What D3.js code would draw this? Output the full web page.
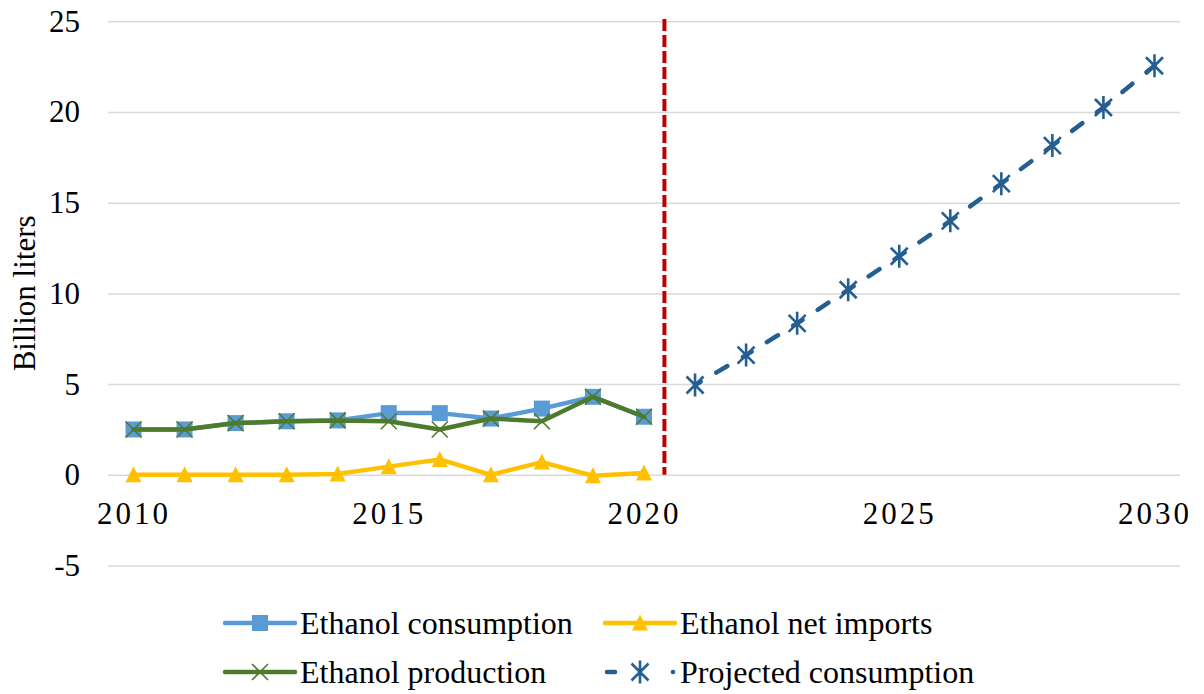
<!DOCTYPE html>
<html>
<head>
<meta charset="utf-8">
<script src="https://cdn.jsdelivr.net/npm/d3@7"></script>
<style>
  body { margin: 0; background: #fff; }
</style>
</head>
<body>
<div id="container"></div>
<script>
const years = [2010, 2011, 2012, 2013, 2014, 2015, 2016, 2017, 2018, 2019, 2020,
               2021, 2022, 2023, 2024, 2025, 2026, 2027, 2028, 2029, 2030];
const histYears = [2010, 2011, 2012, 2013, 2014, 2015, 2016, 2017, 2018, 2019, 2020];
const consumption = [2.5, 2.5, 2.85, 2.95, 3.0, 3.4, 3.4, 3.1, 3.65, 4.3, 3.2];
const netImports = [0, 0, 0, 0, 0.05, 0.45, 0.85, 0, 0.7, -0.05, 0.1];
const production = [2.5, 2.5, 2.85, 2.95, 3.0, 2.95, 2.5, 3.1, 2.95, 4.3, 3.2];
const projYears = [2021, 2022, 2023, 2024, 2025, 2026, 2027, 2028, 2029, 2030];
const projected = [4.95, 6.6, 8.35, 10.2, 12.05, 14.0, 16.05, 18.15, 20.25, 22.55];
const yTicks = [-5, 0, 5, 10, 15, 20, 25];
const xTicks = [2010, 2015, 2020, 2025, 2030];

const totalWidth = 1204;
const totalHeight = 694;
const plot = { left: 108, right: 1180, top: 21.3, bottom: 565.5 };
const serif = "'Liberation Serif'";

const colors = {
  consumption: "#5b9bd5",
  imports: "#ffc000",
  production: "#4e7a2c",
  projected: "#255e91",
  divider: "#c00000",
  grid: "#d9d9d9"
};

const svg = d3.select("#container")
  .append("svg")
  .attr("width", totalWidth)
  .attr("height", totalHeight);

// Scales
const x = d3.scalePoint()
  .domain(years)
  .range([plot.left, plot.right])
  .padding(0.5);

const y = d3.scaleLinear()
  .domain([-5, 25])
  .range([plot.bottom, plot.top]);

// Gridlines
const grid = svg.append("g")
  .attr("transform", `translate(${plot.left},0)`)
  .call(d3.axisLeft(y).tickValues(yTicks).tickSize(-(plot.right - plot.left)).tickFormat(""));
grid.select(".domain").remove();
grid.selectAll(".tick line").attr("stroke", colors.grid).attr("stroke-width", 1.5);

// Y axis labels (plain hyphen for negatives, like the original)
const yAxis = svg.append("g")
  .attr("transform", `translate(${plot.left},0)`)
  .call(d3.axisLeft(y).tickValues(yTicks).tickSize(0).tickPadding(28).tickFormat(d => String(d)));
yAxis.select(".domain").remove();
yAxis.selectAll("text")
  .style("font-family", serif)
  .style("font-size", "31px")
  .style("fill", "#000");

// X axis labels, hung from the zero line
const xAxis = svg.append("g")
  .attr("transform", `translate(0,${y(0)})`)
  .call(d3.axisBottom(x).tickValues(xTicks).tickSize(0).tickPadding(27));
xAxis.select(".domain").remove();
xAxis.selectAll("text")
  .style("font-family", serif)
  .style("font-size", "31px")
  .style("letter-spacing", "3px")
  .style("fill", "#000");

// Y axis title
svg.append("text")
  .attr("transform", "rotate(-90)")
  .attr("x", -(plot.top + plot.bottom) / 2)
  .attr("y", 35)
  .attr("text-anchor", "middle")
  .style("font-family", serif)
  .style("font-size", "31px")
  .text("Billion liters");

// Divider between history and projection
const divX = x(2020) + 0.4 * x.step();
svg.append("line")
  .attr("x1", divX).attr("x2", divX)
  .attr("y1", 19).attr("y2", y(0))
  .attr("stroke", colors.divider)
  .attr("stroke-width", 4)
  .attr("stroke-dasharray", "12,4");

// Marker drawing helpers
function drawMarker(g, kind, color) {
  if (kind === "square") {
    g.append("rect").attr("x", -8).attr("y", -8).attr("width", 16).attr("height", 16)
      .attr("fill", color);
  } else if (kind === "triangle") {
    g.append("path").attr("d", "M0,-8.5L8,7.5L-8,7.5Z").attr("fill", color);
  } else if (kind === "cross") {
    g.append("path").attr("d", "M-8,-8L8,8M-8,8L8,-8")
      .attr("stroke", color).attr("stroke-width", 1.6).attr("fill", "none");
  } else if (kind === "star") {
    g.append("path").attr("d", "M-8.5,-8.5L8.5,8.5M-8.5,8.5L8.5,-8.5M0,-11.5L0,11.5")
      .attr("stroke", color).attr("stroke-width", 2.6).attr("fill", "none");
  }
}

const line = d3.line().x(d => x(d[0])).y(d => y(d[1]));

const series = [
  { key: "consumption", xs: histYears, ys: consumption, color: colors.consumption, marker: "square" },
  { key: "imports", xs: histYears, ys: netImports, color: colors.imports, marker: "triangle" },
  { key: "production", xs: histYears, ys: production, color: colors.production, marker: "cross" }
];

series.forEach(s => {
  const pts = s.xs.map((yr, i) => [yr, s.ys[i]]);
  svg.append("path")
    .datum(pts)
    .attr("d", line)
    .attr("fill", "none")
    .attr("stroke", s.color)
    .attr("stroke-width", 4.5)
    .attr("stroke-linejoin", "round")
    .attr("stroke-linecap", "round");
  svg.selectAll(`g.m-${s.key}`)
    .data(pts)
    .enter()
    .append("g")
    .attr("class", `m-${s.key}`)
    .attr("transform", d => `translate(${x(d[0])},${y(d[1])})`)
    .each(function () { drawMarker(d3.select(this), s.marker, s.color); });
});

// Projected consumption: dashed, pattern restarting at each point
const projPts = projYears.map((yr, i) => [yr, projected[i]]);
d3.pairs(projPts).forEach(pair => {
  svg.append("path")
    .datum(pair)
    .attr("d", line)
    .attr("fill", "none")
    .attr("stroke", colors.projected)
    .attr("stroke-width", 4.5)
    .attr("stroke-linecap", "round")
    .attr("stroke-dasharray", "13,18")
    .attr("stroke-dashoffset", 6.5);
});
svg.selectAll("g.m-proj")
  .data(projPts)
  .enter()
  .append("g")
  .attr("class", "m-proj")
  .attr("transform", d => `translate(${x(d[0])},${y(d[1])})`)
  .each(function () { drawMarker(d3.select(this), "star", colors.projected); });

// Legend
const legendData = [
  { label: "Ethanol consumption", color: colors.consumption, marker: "square", col: 0, row: 0 },
  { label: "Ethanol net imports", color: colors.imports, marker: "triangle", col: 1, row: 0 },
  { label: "Ethanol production", color: colors.production, marker: "cross", col: 0, row: 1 },
  { label: "Projected consumption", color: colors.projected, marker: "star", col: 1, row: 1, dashed: true }
];
const legendCols = [225, 605];
const legendRows = [623, 672];

const legend = svg.append("g").attr("id", "legend");
legendData.forEach(d => {
  const g = legend.append("g")
    .attr("transform", `translate(${legendCols[d.col]},${legendRows[d.row]})`);
  if (d.dashed) {
    g.append("line").attr("x1", 2).attr("x2", 10).attr("y1", 0).attr("y2", 0)
      .attr("stroke", d.color).attr("stroke-width", 4.5).attr("stroke-linecap", "round");
    g.append("circle").attr("cx", 68).attr("cy", 0).attr("r", 2.3).attr("fill", d.color);
  } else {
    g.append("line").attr("x1", 0).attr("x2", 70).attr("y1", 0).attr("y2", 0)
      .attr("stroke", d.color).attr("stroke-width", 4.5).attr("stroke-linecap", "round");
  }
  const m = g.append("g").attr("transform", "translate(35,0)");
  drawMarker(m, d.marker, d.color);
  g.append("text")
    .attr("x", 75)
    .attr("y", 0)
    .attr("dy", "0.33em")
    .style("font-family", serif)
    .style("font-size", "32px")
    .style("fill", "#000")
    .text(d.label);
});
</script>
</body>
</html>
